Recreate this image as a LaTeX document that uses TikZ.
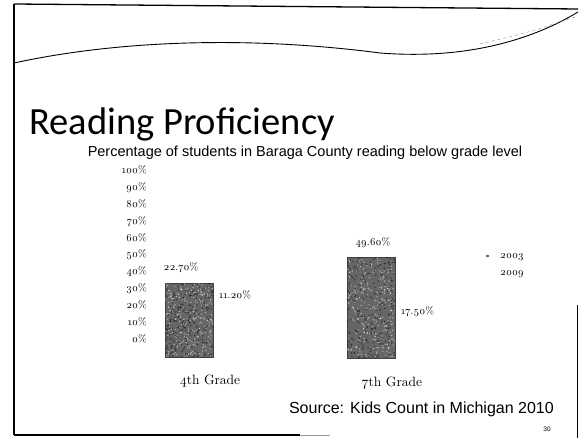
\documentclass[tikz,border=0pt]{standalone}
\usepackage{fontspec}
\newfontfamily\titlefont{Carlito}
\newfontfamily\arialfont{Liberation Sans}
\newfontfamily\oldfig{lmroman10-regular.otf}[Numbers=OldStyle]
\usetikzlibrary{positioning}

\begin{document}
\begin{tikzpicture}[x=1pt,y=-1pt,
  tick/.style={anchor=base east,font=\oldfig\fontsize{10.5}{11}\selectfont,inner sep=0pt},
  val/.style={font=\oldfig\fontsize{10.5}{11}\selectfont,inner sep=0pt},
  grade/.style={anchor=base,font=\oldfig\fontsize{13.5}{14}\selectfont,inner sep=0pt},
  barfill/.style={fill=black!60,draw=black!75,line width=0.4pt}]
\useasboundingbox (0,0) rectangle (581,438);
% slide frame
\draw[line width=1.3pt] (14,4)--(578,9);
\draw[line width=1.2pt] (14,4)--(14,435);
\draw[line width=1.4pt] (14,435)--(300,435);
\draw[line width=0.6pt,black!40] (300,435)--(330,435);
\draw[line width=1pt] (577,305)--(577,438);
% wave under the top line
\draw[line width=0.9pt] (14,63) .. controls (120,40) and (250,36) .. (380,53)
  .. controls (470,60) and (535,38) .. (578,12);
\draw[black!45,dashed,line width=0.4pt] (480,44) .. controls (530,32) .. (578,16);
% texts
\node[anchor=base west,inner sep=0pt,font=\titlefont\fontsize{38.5}{42}\selectfont] (title) at (29,135) {Reading Proficiency};
\node[anchor=base,inner sep=0pt,font=\arialfont\fontsize{14.5}{16}\selectfont] (sub) at (305,157) {Percentage of students in Baraga County reading below grade level};
% axis labels
\foreach \p [count=\i from 0] in {0,10,...,100}
  \node[tick] (t\p) at (147,{342-16.8*\i}) {\p\%};
% bars (2003 dark, 2009 not printed)
\pgfmathsetseed{30}
\draw[barfill] (165,283) rectangle (213,357);
\draw[barfill] (347,257) rectangle (395,358);
\foreach \k in {1,...,260}{
  \fill[white,opacity=0.55] ({165.5+47*rnd},{283.5+73*rnd}) circle (0.7);
  \fill[black,opacity=0.5] ({165.5+47*rnd},{283.5+73*rnd}) circle (0.8);
  \fill[white,opacity=0.55] ({347.5+47*rnd},{257.5+100*rnd}) circle (0.7);
  \fill[black,opacity=0.5] ({347.5+47*rnd},{257.5+100*rnd}) circle (0.8);}
\node[val,anchor=base] (a4) at (181,271) {22.70\%};
\node[val,anchor=base west] (b4) at (219,299) {11.20\%};
\node[val,anchor=base] (a7) at (373,246) {49.60\%};
\node[val,anchor=base west] (b7) at (401,315) {17.50\%};
\node[grade] (g4) at (210,384) {4th Grade};
\node[grade] (g7) at (392,386) {7th Grade};
% legend
\fill[black!60] (486,255) rectangle (489,257);
\node[val,anchor=base west] (l3) at (500,259) {2003};
\node[val,anchor=base west] (l9) at (500,276) {2009};
% source
\node[anchor=base east,inner sep=0pt,font=\arialfont\fontsize{16}{18}\selectfont] (src) at (554,413) {Source: Kids Count in Michigan 2010};
\node[anchor=base,inner sep=0pt,font=\arialfont\fontsize{6.5}{7}\selectfont] (pg) at (547,431) {30};
\end{tikzpicture}
\end{document}
